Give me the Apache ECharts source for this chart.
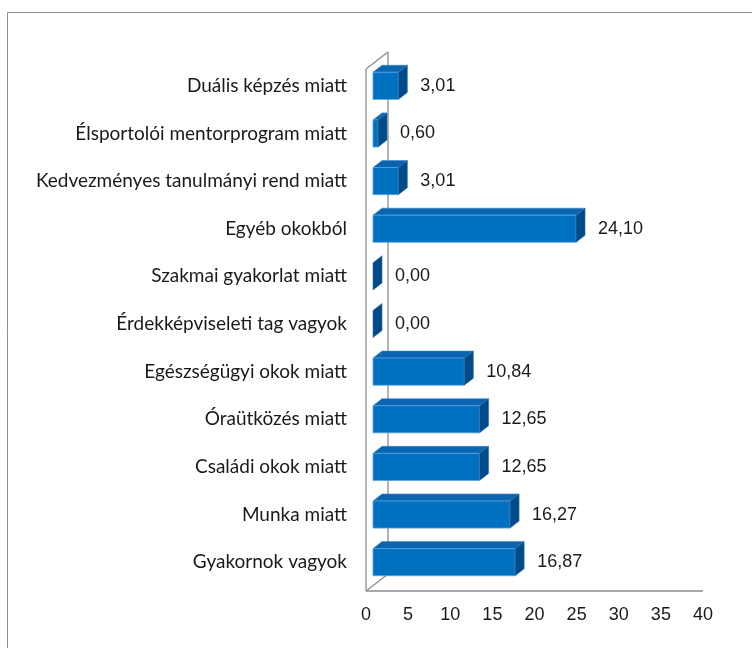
<!DOCTYPE html>
<html>
<head>
<meta charset="utf-8">
<script src="https://cdn.jsdelivr.net/npm/echarts@6/dist/echarts.min.js"></script>
<style>html,body{margin:0;padding:0;background:#fff}#c{width:752px;height:648px}</style>
</head>
<body>
<div id="c"></div>
<script>
const categories = [
  'Duális képzés miatt',
  'Élsportolói mentorprogram miatt',
  'Kedvezményes tanulmányi rend miatt',
  'Egyéb okokból',
  'Szakmai gyakorlat miatt',
  'Érdekképviseleti tag vagyok',
  'Egészségügyi okok miatt',
  'Óraütközés miatt',
  'Családi okok miatt',
  'Munka miatt',
  'Gyakornok vagyok'
];
const values = [3.01, 0.60, 3.01, 24.10, 0.00, 0.00, 10.84, 12.65, 12.65, 16.27, 16.87];
const xTicks = [0, 5, 10, 15, 20, 25, 30, 35, 40];

const chart = echarts.init(document.getElementById('c'), null, {renderer: 'canvas'});
const OFF = 7, DX = 9, DY = -7;

function fmt(v){ return v.toFixed(2).replace('.', ','); }

const barData = values.map((v, i) => [v, i]);

const option = {
  animation: false,
  backgroundColor: '#fff',
  graphic: [{
    type: 'rect', z: -10,
    shape: {x: 7.5, y: 12.5, width: 800, height: 700},
    style: {fill: 'none', stroke: '#8c8c8c', lineWidth: 1}
  }],
  grid: {left: 366, right: 49, top: 62, bottom: 62},
  xAxis: {
    type: 'value', min: xTicks[0], max: xTicks[xTicks.length - 1], interval: 5,
    axisLine: {show: false}, axisTick: {show: false}, splitLine: {show: false},
    axisLabel: {margin: 20, fontSize: 18, color: '#1a1a1a', fontFamily: 'Liberation Sans'}
  },
  yAxis: {
    type: 'category', data: categories, inverse: true,
    axisLine: {show: false}, axisTick: {show: false},
    axisLabel: {margin: 19, fontSize: 19, color: '#1a1a1a', fontFamily: 'Lato'}
  },
  series: [
    {
      type: 'custom', z: 1, silent: true,
      data: [[0, 0]],
      renderItem: function(params, api){
        const cs = params.coordSys;
        const x = cs.x, y = cs.y, w = cs.width, h = cs.height;
        const st = {stroke: '#8c8c8c', lineWidth: 1.3, fill: 'none'};
        return {type: 'group', children: [
          {type: 'line', shape: {x1: x, y1: y + 7, x2: x, y2: y + h + 5}, style: st},
          {type: 'line', shape: {x1: x, y1: y + 7, x2: x + 22, y2: y - 10}, style: st},
          {type: 'line', shape: {x1: x + 22, y1: y - 10, x2: x + 22, y2: y + h - 12}, style: st},
          {type: 'line', shape: {x1: x, y1: y + h + 5, x2: x + 22, y2: y + h - 12}, style: st},
          {type: 'line', shape: {x1: x, y1: y + h + 5, x2: x + w, y2: y + h + 5}, style: st}
        ]};
      }
    },
    {
      type: 'custom', z: 5, silent: true,
      encode: {x: 0, y: 1},
      data: barData,
      renderItem: function(params, api){
        const v = api.value(0), ci = api.value(1);
        const base = api.coord([0, ci]);
        const end = api.coord([v, ci]);
        const band = api.size([0, 1])[1];
        const h = band * 0.57;
        const x0 = base[0] + OFF, x1 = end[0] + OFF;
        const yc = base[1], yt = yc - h / 2, yb = yc + h / 2;
        const children = [];
        if (x1 - x0 > 0.1) {
          children.push({type: 'polygon', shape: {points: [[x0, yt], [x1, yt], [x1 + DX, yt + DY], [x0 + DX, yt + DY]]},
            style: {fill: '#0a64b0', stroke: '#3a8ad0', lineWidth: 0.6}});
          children.push({type: 'rect', shape: {x: x0, y: yt, width: x1 - x0, height: h},
            style: {fill: '#0070C0', stroke: '#5aa2dc', lineWidth: 0.8}});
        }
        children.push({type: 'polygon', shape: {points: [[x1, yt], [x1 + DX, yt + DY], [x1 + DX, yb + DY], [x1, yb]]},
          style: {fill: '#004b87', stroke: '#2d6fae', lineWidth: 0.6}});
        children.push({type: 'text', x: x1 + DX + 13, y: yc,
          style: {text: fmt(v), fill: '#1a1a1a', fontSize: 18, fontFamily: 'Liberation Sans', align: 'left', verticalAlign: 'middle'}});
        return {type: 'group', children: children};
      }
    }
  ]
};
chart.setOption(option);
</script>
</body>
</html>
